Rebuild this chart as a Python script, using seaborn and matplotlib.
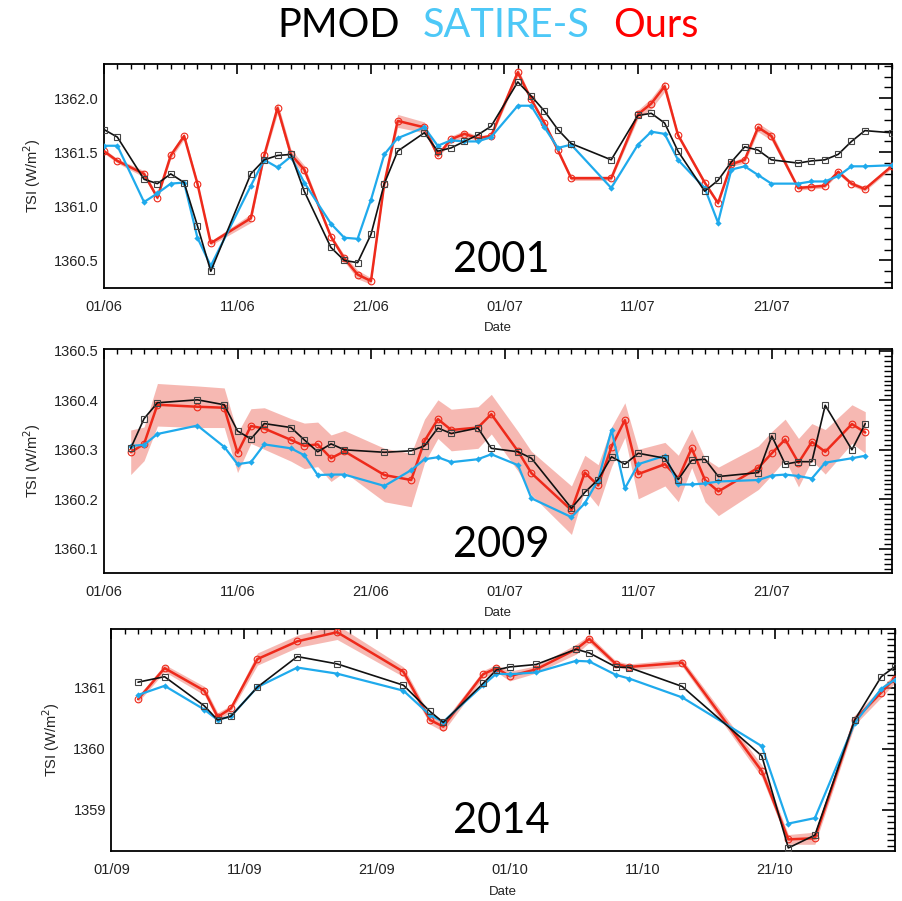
import numpy as np
import pandas as pd
import matplotlib
matplotlib.use("Agg")
import matplotlib.pyplot as plt
import matplotlib.dates as mdates
from matplotlib.ticker import MultipleLocator, FormatStrFormatter
import seaborn as sns

# ---------------- data ----------------
# 2001 (days counted from 01/06/2001)
days_2001 = [0, 1, 3, 4, 5, 6, 7, 8, 11, 12, 13, 14, 15, 17, 18, 19, 20, 21, 22, 24,
             25, 26, 27, 28, 29, 31, 32, 33, 34, 35, 38, 40, 41, 42, 43, 45, 46, 47,
             48, 49, 50, 52, 53, 54, 55, 56, 57, 59]
pmod_2001 = [1361.71, 1361.64, 1361.25, 1361.21, 1361.30, 1361.22, 1360.82, 1360.40,
             1361.30, 1361.43, 1361.47, 1361.48, 1361.14, 1360.62, 1360.50, 1360.48,
             1360.74, 1361.21, 1361.51, 1361.68, 1361.51, 1361.54, 1361.60, 1361.66,
             1361.74, 1362.15, 1362.02, 1361.88, 1361.71, 1361.58, 1361.43, 1361.84,
             1361.86, 1361.77, 1361.51, 1361.14, 1361.24, 1361.41, 1361.55, 1361.52,
             1361.43, 1361.40, 1361.42, 1361.43, 1361.48, 1361.60, 1361.70, 1361.68]
satire_2001 = [1361.56, 1361.56, 1361.04, 1361.12, 1361.21, 1361.22, 1360.71, 1360.45,
               1361.19, 1361.43, 1361.36, 1361.46, 1361.22, 1360.84, 1360.71, 1360.70,
               1361.06, 1361.48, 1361.63, 1361.73, 1361.56, 1361.61, 1361.60, 1361.60,
               1361.64, 1361.93, 1361.93, 1361.73, 1361.54, 1361.57, 1361.17, 1361.57,
               1361.69, 1361.67, 1361.43, 1361.17, 1360.85, 1361.34, 1361.37, 1361.29,
               1361.21, 1361.21, 1361.23, 1361.23, 1361.28, 1361.37, 1361.37, 1361.38]
ours_2001 = [1361.51, 1361.42, 1361.30, 1361.08, 1361.47, 1361.65, 1361.21, 1360.66,
             1360.89, 1361.47, 1361.91, 1361.48, 1361.34, 1360.72, 1360.52, 1360.37,
             1360.31, 1361.21, 1361.79, 1361.73, 1361.47, 1361.62, 1361.67, 1361.63,
             1361.65, 1362.24, 1361.99, 1361.77, 1361.52, 1361.26, 1361.26, 1361.85,
             1361.95, 1362.11, 1361.66, 1361.22, 1361.03, 1361.39, 1361.43, 1361.73,
             1361.65, 1361.17, 1361.18, 1361.19, 1361.32, 1361.21, 1361.16, 1361.37]
ours_err_2001 = [0.02, 0.02, 0.03, 0.02, 0.03, 0.03, 0.02, 0.02, 0.04, 0.03, 0.05, 0.05,
                 0.04, 0.02, 0.03, 0.04, 0.03, 0.02, 0.06, 0.05, 0.02, 0.03, 0.03, 0.02,
                 0.02, 0.04, 0.02, 0.02, 0.02, 0.02, 0.02, 0.04, 0.05, 0.05, 0.02, 0.02,
                 0.02, 0.02, 0.03, 0.04, 0.04, 0.02, 0.02, 0.02, 0.02, 0.02, 0.02, 0.02]

# 2009 (days counted from 01/06/2009)
days_2009 = [2, 3, 4, 7, 9, 10, 11, 12, 14, 15, 16, 17, 18, 21, 23, 24, 25, 26, 28, 29,
             31, 32, 35, 36, 37, 38, 39, 40, 42, 43, 44, 45, 46, 49, 50, 51, 52, 53, 54,
             56, 57]
pmod_2009 = [1360.303, 1360.363, 1360.395, 1360.401, 1360.391, 1360.338, 1360.322,
             1360.353, 1360.345, 1360.320, 1360.296, 1360.312, 1360.300, 1360.295,
             1360.298, 1360.308, 1360.344, 1360.333, 1360.344, 1360.303, 1360.296,
             1360.283, 1360.182, 1360.214, 1360.240, 1360.286, 1360.271, 1360.293,
             1360.283, 1360.240, 1360.279, 1360.281, 1360.246, 1360.254, 1360.328,
             1360.271, 1360.276, 1360.276, 1360.390, 1360.300, 1360.353]
satire_2009 = [1360.308, 1360.310, 1360.332, 1360.349, 1360.306, 1360.271, 1360.275,
               1360.311, 1360.303, 1360.289, 1360.249, 1360.250, 1360.250, 1360.227,
               1360.259, 1360.281, 1360.285, 1360.275, 1360.281, 1360.291, 1360.269,
               1360.202, 1360.164, 1360.192, 1360.239, 1360.340, 1360.222, 1360.271,
               1360.288, 1360.230, 1360.230, 1360.232, 1360.236, 1360.239, 1360.248,
               1360.250, 1360.247, 1360.242, 1360.274, 1360.283, 1360.288]
ours_2009 = [1360.295, 1360.312, 1360.391, 1360.387, 1360.385, 1360.294, 1360.348,
             1360.343, 1360.320, 1360.308, 1360.311, 1360.283, 1360.297, 1360.249,
             1360.239, 1360.318, 1360.362, 1360.340, 1360.345, 1360.372, 1360.297,
             1360.253, 1360.178, 1360.254, 1360.228, 1360.306, 1360.360, 1360.251,
             1360.271, 1360.242, 1360.303, 1360.239, 1360.216, 1360.264, 1360.293,
             1360.321, 1360.274, 1360.316, 1360.296, 1360.352, 1360.335]
ours_err_2009 = [0.045, 0.034, 0.043, 0.042, 0.040, 0.040, 0.035, 0.042, 0.043, 0.046,
                 0.045, 0.047, 0.042, 0.054, 0.054, 0.044, 0.039, 0.042, 0.042, 0.040,
                 0.040, 0.044, 0.049, 0.035, 0.042, 0.040, 0.035, 0.050, 0.044, 0.047,
                 0.039, 0.044, 0.049, 0.044, 0.044, 0.041, 0.049, 0.037, 0.045, 0.039,
                 0.042]

# 2014 (days counted from 01/09/2014)
days_2014 = [2, 4, 7, 8, 9, 11, 14, 17, 22, 24, 25, 28, 29, 30, 32, 35, 36, 38, 39, 43,
             49, 51, 53, 56, 58, 59]
pmod_2014 = [1361.09, 1361.18, 1360.70, 1360.47, 1360.53, 1361.01, 1361.51, 1361.39,
             1361.04, 1360.61, 1360.43, 1361.07, 1361.29, 1361.34, 1361.38, 1361.63,
             1361.57, 1361.34, 1361.33, 1361.02, 1359.88, 1358.37, 1358.58, 1360.47,
             1361.18, 1361.34]
satire_2014 = [1360.88, 1361.03, 1360.64, 1360.47, 1360.53, 1361.01, 1361.33, 1361.23,
               1360.95, 1360.55, 1360.44, 1361.04, 1361.23, 1361.22, 1361.25, 1361.44,
               1361.43, 1361.21, 1361.15, 1360.84, 1360.04, 1358.77, 1358.86, 1360.42,
               1360.98, 1361.13]
ours_2014 = [1360.81, 1361.32, 1360.95, 1360.52, 1360.66, 1361.47, 1361.76, 1361.91,
             1361.26, 1360.47, 1360.36, 1361.22, 1361.32, 1361.19, 1361.30, 1361.63,
             1361.80, 1361.39, 1361.34, 1361.41, 1359.63, 1358.51, 1358.53, 1360.47,
             1360.92, 1361.15]
ours_err_2014 = [0.05, 0.06, 0.07, 0.07, 0.05, 0.10, 0.10, 0.12, 0.08, 0.07, 0.08, 0.06,
                 0.06, 0.08, 0.06, 0.08, 0.06, 0.05, 0.05, 0.06, 0.10, 0.08, 0.10, 0.08,
                 0.08, 0.08]

series_names = ["PMOD", "SATIRE-S", "Ours"]
year_labels = ["2001", "2009", "2014"]

# ---------------- style ----------------
sns.set_style("white")
plt.rcParams["font.family"] = ["Liberation Sans", "DejaVu Sans"]
plt.rcParams["axes.linewidth"] = 1.3

C_PMOD = "#111111"
C_SAT = "#1FAAEC"
C_SAT_TITLE = "#4DC8F7"
C_OURS = "#EE2A1B"
C_BAND = "#F08A80"

fig = plt.figure(figsize=(9.02, 9.01), dpi=100)

panels = [
    dict(start="2001-06-01", days=days_2001, pmod=pmod_2001, sat=satire_2001,
         ours=ours_2001, err=ours_err_2001, ylim=(1360.25, 1362.32), major=0.5,
         minor=0.1, fmt="%.1f", rect=[0.1153, 0.6809, 0.8731, 0.2486],
         year=year_labels[0], year_y=1 - 272 / 901),
    dict(start="2009-06-01", days=days_2009, pmod=pmod_2009, sat=satire_2009,
         ours=ours_2009, err=ours_err_2009, ylim=(1360.052, 1360.503), major=0.1,
         minor=0.01, fmt="%.1f", rect=[0.1153, 0.3645, 0.8736, 0.2478],
         year=year_labels[1], year_y=1 - 557 / 901),
    dict(start="2014-09-01", days=days_2014, pmod=pmod_2014, sat=satire_2014,
         ours=ours_2014, err=ours_err_2014, ylim=(1358.32, 1361.97), major=1.0,
         minor=0.1, fmt="%d", rect=[0.1236, 0.0555, 0.8681, 0.2469],
         year=year_labels[2], year_y=1 - 833 / 901),
]

for p in panels:
    ax = fig.add_axes(p["rect"])
    t0 = pd.Timestamp(p["start"])
    dates = t0 + pd.to_timedelta(p["days"], unit="D")
    df = pd.DataFrame({"Date": dates, "pmod": p["pmod"], "sat": p["sat"],
                       "ours": p["ours"], "err": p["err"]})

    # uncertainty band of our reconstruction
    ax.fill_between(df["Date"], df["ours"] - df["err"], df["ours"] + df["err"],
                    color=C_BAND, alpha=0.6, lw=0, zorder=1)

    sns.lineplot(data=df, x="Date", y="ours", ax=ax, color=C_OURS, lw=1.8,
                 marker="o", markersize=4.8, markerfacecolor="none",
                 markeredgecolor=C_OURS, markeredgewidth=0.8, sort=False,
                 errorbar=None, zorder=3, label=series_names[2], legend=False)
    sns.lineplot(data=df, x="Date", y="sat", ax=ax, color=C_SAT, lw=1.6,
                 marker="D", markersize=3.2, markeredgewidth=0, sort=False,
                 errorbar=None, zorder=4, label=series_names[1], legend=False)
    sns.lineplot(data=df, x="Date", y="pmod", ax=ax, color=C_PMOD, lw=1.2,
                 marker="s", markersize=4.8, markerfacecolor="none",
                 markeredgecolor="#444444", markeredgewidth=0.8, sort=False,
                 errorbar=None, zorder=5, label=series_names[0], legend=False)

    ax.set_xlim(t0, t0 + pd.Timedelta(days=59))
    ax.set_ylim(*p["ylim"])

    ax.xaxis.set_major_locator(mdates.DayLocator(bymonthday=[1, 11, 21]))
    ax.xaxis.set_minor_locator(mdates.DayLocator())
    ax.xaxis.set_major_formatter(mdates.DateFormatter("%d/%m"))
    ax.yaxis.set_major_locator(MultipleLocator(p["major"]))
    ax.yaxis.set_minor_locator(MultipleLocator(p["minor"]))
    ax.yaxis.set_major_formatter(FormatStrFormatter(p["fmt"]))

    ax.tick_params(axis="both", which="both", direction="in", top=True,
                   right=True, colors="black", labelsize=10.5)
    ax.tick_params(axis="y", which="major", length=9.5, width=1.2, pad=4)
    ax.tick_params(axis="y", which="minor", length=5.5, width=1.0)
    ax.tick_params(axis="x", which="major", length=7, width=1.2, pad=9)
    ax.tick_params(axis="x", which="minor", length=3.5, width=1.0)
    for lab in ax.get_xticklabels() + ax.get_yticklabels():
        lab.set_color("#222222")

    for s in ax.spines.values():
        s.set_color("black")
        s.set_linewidth(1.3)

    ax.set_xlabel("Date", fontsize=9.5, labelpad=6, color="#222222")
    ax.set_ylabel("TSI (W/m$^2$)", fontsize=10.5, labelpad=8, color="#222222")

    fig.text(0.556, p["year_y"], p["year"], ha="center", va="baseline",
             fontsize=30, family=["Lato", "DejaVu Sans"], color="black")

# coloured header naming the three series
ty = 1 - 37.3 / 901
fig.text(277 / 902, ty, series_names[0], color="black", fontsize=28.5,
         family=["Lato", "DejaVu Sans"], ha="left", va="baseline")
fig.text(423 / 902, ty, series_names[1], color=C_SAT_TITLE, fontsize=28.5,
         family=["Lato", "DejaVu Sans"], ha="left", va="baseline")
fig.text(613 / 902, ty, series_names[2], color="#FF0000", fontsize=28.5,
         family=["Lato", "DejaVu Sans"], ha="left", va="baseline")

fig.savefig("out.png", dpi=100)
